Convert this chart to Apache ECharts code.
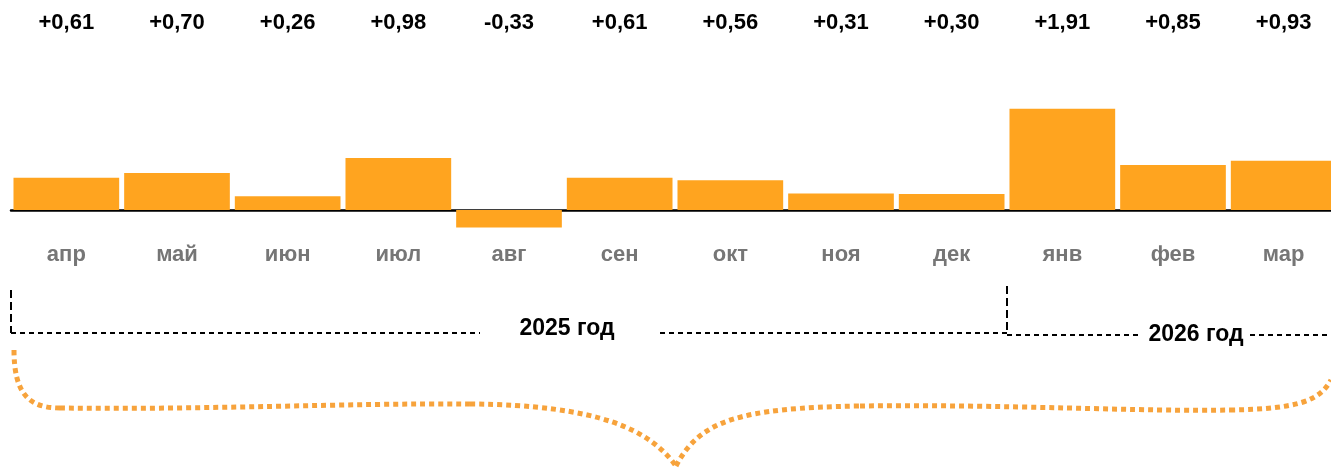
<!DOCTYPE html>
<html>
<head>
<meta charset="utf-8">
<script src="https://cdn.jsdelivr.net/npm/echarts@6/dist/echarts.min.js"></script>
<style>
  html, body { margin: 0; padding: 0; background: #fff; }
  #chart { width: 1331px; height: 469px; }
</style>
</head>
<body>
<div id="chart"></div>
<script>
var months = ['апр', 'май', 'июн', 'июл', 'авг', 'сен', 'окт', 'ноя', 'дек', 'янв', 'фев', 'мар']
var values = [0.61, 0.70, 0.26, 0.98, -0.33, 0.61, 0.56, 0.31, 0.30, 1.91, 0.85, 0.93]
var yearLabels = ['2025 год', '2026 год']

var valueLabels = values.map(function (v) {
  return (v > 0 ? '+' : '') + v.toFixed(2).replace('.', ',')
})

var font = 'Liberation Sans, Arial, sans-serif'
var chart = echarts.init(document.getElementById('chart'))

chart.setOption({
  animation: false,
  grid: { left: 11, width: 1328, top: 104, height: 127.2, outerBoundsMode: 'none' },
  xAxis: [
    {
      type: 'category',
      data: months,
      axisTick: { show: false },
      axisLine: { onZero: true, lineStyle: { color: '#000', width: 2.5 } },
      axisLabel: {
        margin: 13,
        color: '#767676',
        fontSize: 22,
        fontWeight: 'bold',
        fontFamily: font
      }
    },
    {
      type: 'category',
      position: 'top',
      data: valueLabels,
      axisTick: { show: false },
      axisLine: { show: false },
      axisLabel: {
        margin: 70,
        color: '#000',
        fontSize: 22,
        fontWeight: 'bold',
        fontFamily: font
      }
    }
  ],
  yAxis: {
    type: 'value',
    min: -0.4,
    max: 2,
    show: false,
    splitLine: { show: false }
  },
  series: [
    {
      type: 'bar',
      data: values,
      barCategoryGap: '4.5%',
      itemStyle: { color: '#ffa41f' }
    }
  ]
})

// annotation: year brackets and brace below the axis
var c0 = chart.convertToPixel({ xAxisIndex: 0 }, months[0])
var c1 = chart.convertToPixel({ xAxisIndex: 0 }, months[1])
var band = c1 - c0
var leftX = c0 - band / 2
var splitX = c0 + band * 8.5
var rightX = 1331

var hDash = { stroke: '#000', lineWidth: 2, lineDash: [5, 4] }
var vDash = { stroke: '#000', lineWidth: 2, lineDash: [8, 4] }
var brace = { stroke: '#f7a33c', lineWidth: 5, lineDash: [5, 4], fill: null }

function seg (x1, y1, x2, y2, style) {
  return { type: 'line', shape: { x1: x1, y1: y1, x2: x2, y2: y2 }, style: style, silent: true }
}
function curve (p) {
  return {
    type: 'bezierCurve',
    shape: { x1: p[0], y1: p[1], cpx1: p[2], cpy1: p[3], cpx2: p[4], cpy2: p[5], x2: p[6], y2: p[7] },
    style: brace,
    silent: true
  }
}

chart.setOption({
  graphic: [
    seg(leftX, 290, leftX, 333, vDash),
    seg(leftX, 333, 480, 333, hDash),
    seg(660, 333, splitX, 333, hDash),
    seg(splitX, 286, splitX, 334, vDash),
    seg(splitX, 335, 1139, 335, hDash),
    seg(1250, 335, rightX, 335, hDash),
    {
      type: 'text', x: 567, y: 329, silent: true,
      style: { text: yearLabels[0], font: 'bold 23px ' + font, fill: '#000', align: 'center', verticalAlign: 'middle' }
    },
    {
      type: 'text', x: 1196, y: 335, silent: true,
      style: { text: yearLabels[1], font: 'bold 23px ' + font, fill: '#000', align: 'center', verticalAlign: 'middle' }
    },
    curve([14, 350, 14, 395, 30, 408, 60, 408]),
    curve([60, 408, 200, 410, 350, 403, 470, 404]),
    curve([470, 404, 600, 405, 650, 430, 676, 466]),
    curve([676, 466, 700, 420, 740, 408, 860, 406]),
    curve([860, 406, 1000, 404, 1150, 412, 1230, 410]),
    curve([1230, 410, 1300, 409, 1320, 400, 1331, 380])
  ]
})
</script>
</body>
</html>
